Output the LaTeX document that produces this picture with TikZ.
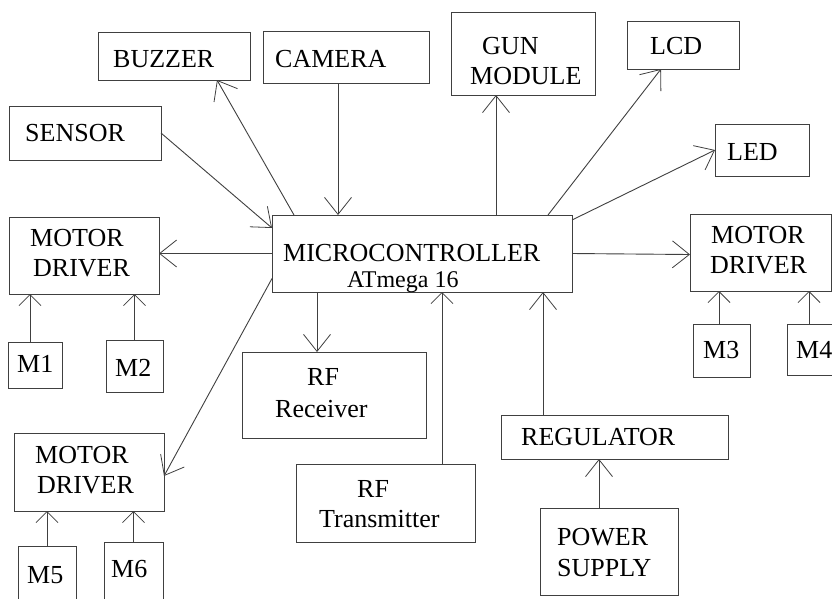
\documentclass[tikz,border=0pt]{standalone}
\usepackage{fontspec}
\setmainfont{Liberation Serif}
\usetikzlibrary{arrows.meta}
\begin{document}
\begin{tikzpicture}[x=1pt,y=-1pt,
  box/.style={draw=black!75,line width=1pt,inner sep=0pt,outer sep=0pt,rectangle},
  lbl/.style={anchor=base west,inner sep=0pt,font=\fontsize{26}{30}\selectfont},
  sml/.style={anchor=base west,inner sep=0pt,font=\fontsize{24}{28}\selectfont},
  conn/.style={draw=black!75,line width=0.9pt,-{Straight Barb[length=17pt,width=27pt,line width=0.8pt]}},
  mconn/.style={draw=black!75,line width=0.9pt,-{Straight Barb[length=11pt,width=22pt,line width=0.8pt]}}]
\useasboundingbox (0,0) rectangle (832,598);
\fill[white] (0,0) rectangle (832,598);
% boxes
\node[box,minimum width=152pt,minimum height=48pt] (buzzer) at (174,56) {};
\node[box,minimum width=166pt,minimum height=52pt] (camera) at (346,57) {};
\node[box,minimum width=152pt,minimum height=54pt] (sensor) at (85,133) {};
\node[box,minimum width=144pt,minimum height=83pt] (gun) at (523,53.5) {};
\node[box,minimum width=112pt,minimum height=48pt] (lcd) at (683,45) {};
\node[box,minimum width=94pt,minimum height=52pt] (led) at (762,150) {};
\node[box,minimum width=300pt,minimum height=77pt] (micro) at (422,253.5) {};
\node[box,minimum width=150pt,minimum height=77pt] (mdl) at (84,255.5) {};
\node[box,minimum width=54pt,minimum height=46pt] (m1) at (35,365) {};
\node[box,minimum width=57pt,minimum height=52pt] (m2) at (134.5,366) {};
\node[box,minimum width=184pt,minimum height=86pt] (rfr) at (334,395) {};
\node[box,minimum width=141pt,minimum height=77pt] (mdr) at (760.5,252.5) {};
\node[box,minimum width=57pt,minimum height=53pt] (m3) at (721.5,350.5) {};
\node[box,minimum width=53pt,minimum height=51pt] (m4) at (813.5,349.5) {};
\node[box,minimum width=179pt,minimum height=78pt] (rft) at (385.5,503) {};
\node[box,minimum width=227pt,minimum height=44pt] (reg) at (614.5,437) {};
\node[box,minimum width=138pt,minimum height=87pt] (ps) at (609,551.5) {};
\node[box,minimum width=150pt,minimum height=78pt] (mdb) at (89,472) {};
\node[box,minimum width=58pt,minimum height=64pt] (m5) at (47,578) {};
\node[box,minimum width=59pt,minimum height=68pt] (m6) at (133.5,576) {};
% texts
\node[lbl] (tbuzzer) at (113,67) {BUZZER};
\node[lbl] (tcamera) at (275,67) {CAMERA};
\node[lbl] (tsensor) at (25,141) {SENSOR};
\node[lbl] (tgun1) at (482,54) {GUN};
\node[lbl] (tgun2) at (470,84) {MODULE};
\node[lbl] (tlcd) at (650,54) {LCD};
\node[lbl] (tled) at (727,160) {LED};
\node[lbl] (tmicro1) at (283,261) {MICROCONTROLLER};
\node[sml] (tmicro2) at (347,287) {ATmega 16};
\node[lbl] (tmdl1) at (30,246) {MOTOR};
\node[lbl] (tmdl2) at (33,276) {DRIVER};
\node[lbl] (tm1) at (17,372) {M1};
\node[lbl] (tm2) at (115,376) {M2};
\node[lbl] (trfr1) at (307,385) {RF};
\node[lbl] (trfr2) at (275,417) {Receiver};
\node[lbl] (tmdr1) at (711,243) {MOTOR};
\node[lbl] (tmdr2) at (710,273) {DRIVER};
\node[lbl] (tm3) at (703,358) {M3};
\node[lbl] (tm4) at (796,358) {M4};
\node[lbl] (trft1) at (357,497) {RF};
\node[lbl] (trft2) at (319,527) {Transmitter};
\node[lbl] (treg) at (521,445) {REGULATOR};
\node[lbl] (tps1) at (557,545) {POWER};
\node[lbl] (tps2) at (557,576) {SUPPLY};
\node[lbl] (tmdb1) at (35,463) {MOTOR};
\node[lbl] (tmdb2) at (37,493) {DRIVER};
\node[lbl] (tm5) at (27,583) {M5};
\node[lbl] (tm6) at (111,577) {M6};
% connectors
\draw[conn] (sensor.east) -- ([yshift=-13pt]micro.north west);
\draw[conn] ([xshift=22pt]micro.north west) -- ([xshift=43pt]buzzer.south);
\draw[conn] ([xshift=-8pt]camera.south) -- ([xshift=-8pt]camera.south |- micro.north);
\draw[conn] ([xshift=-27pt]gun.south |- micro.north) -- ([xshift=-27pt]gun.south);
\draw[conn] ([xshift=126pt]micro.north) -- ([xshift=-22pt]lcd.south);
\draw[conn] ([yshift=-5pt]micro.north east) -- (led.west);
\draw[conn] (micro.west) -- (micro.west -| mdl.east);
\draw[conn] (micro.east) -- ([yshift=-2pt]mdr.west);
\draw[conn] ([yshift=-25pt]micro.west) -- ([yshift=-4pt]mdb.east);
\draw[conn] ([xshift=-105pt]micro.south) -- ([xshift=-105pt]micro.south |- rfr.north);
\draw[mconn] ([xshift=56.5pt]rft.north) -- ([xshift=56.5pt]rft.north |- micro.south);
\draw[conn] ([xshift=-71.5pt]reg.north) -- ([xshift=-71.5pt]reg.north |- micro.south);
\draw[conn] ([xshift=-10pt]ps.north) -- ([xshift=-10pt]ps.north |- reg.south);
\draw[mconn] ([xshift=-5pt]m1.north) -- ([xshift=-5pt]m1.north |- mdl.south);
\draw[mconn] (m2.north) -- (m2.north |- mdl.south);
\draw[mconn] ([xshift=-2.5pt]m3.north) -- ([xshift=-2.5pt]m3.north |- mdr.south);
\draw[mconn] ([xshift=-4.5pt]m4.north) -- ([xshift=-4.5pt]m4.north |- mdr.south);
\draw[mconn] (m5.north) -- (m5.north |- mdb.south);
\draw[mconn] (m6.north) -- (m6.north |- mdb.south);
\end{tikzpicture}
\end{document}
